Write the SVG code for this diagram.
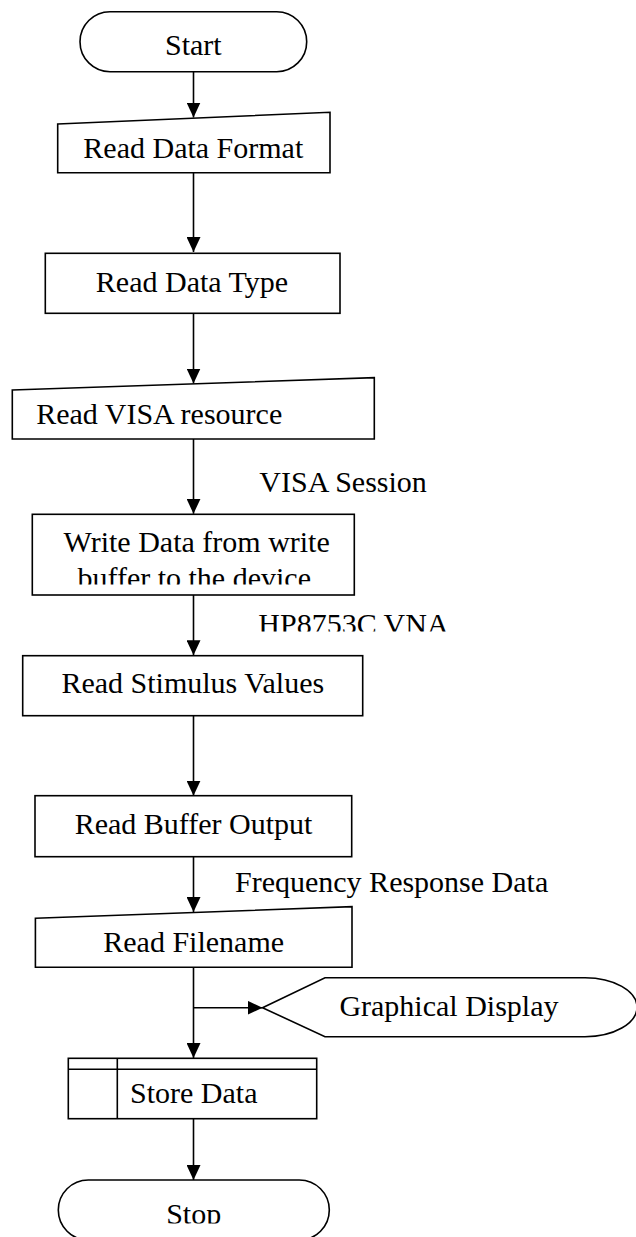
<svg xmlns="http://www.w3.org/2000/svg" width="636" height="1237" viewBox="0 0 636 1237">
  <style>
    .shape { fill: #ffffff; stroke: #000000; stroke-width: 1.6; }
    .edge { fill: none; stroke: #000000; stroke-width: 1.6; }
    .label { font-family: "Liberation Serif", "Times New Roman", serif; font-size: 30px; fill: #000000; }
    .mid { text-anchor: middle; }
  </style>
  <defs>
    <marker id="arrow" markerUnits="userSpaceOnUse" markerWidth="15" markerHeight="14" refX="15" refY="7" orient="auto">
      <path d="M0,0 L15,7 L0,14 Z" fill="#000000"/>
    </marker>
    <clipPath id="clip-write"><rect x="0" y="530" width="636" height="54.5"/></clipPath>
    <clipPath id="clip-vna"><rect x="0" y="600" width="636" height="31.5"/></clipPath>
    <clipPath id="clip-stop"><rect x="0" y="1180" width="636" height="43.5"/></clipPath>
  </defs>

  <rect width="636" height="1237" fill="#ffffff"/>

  <!-- connectors -->
  <g id="connectors">
    <line class="edge" x1="193.5" y1="71.7" x2="193.5" y2="117.5" marker-end="url(#arrow)"/>
    <line class="edge" x1="193.5" y1="172.7" x2="193.5" y2="252" marker-end="url(#arrow)"/>
    <line class="edge" x1="193.5" y1="313.3" x2="193.5" y2="383.5" marker-end="url(#arrow)"/>
    <line class="edge" x1="193.5" y1="439" x2="193.5" y2="513.8" marker-end="url(#arrow)"/>
    <line class="edge" x1="193.5" y1="595" x2="193.5" y2="655.2" marker-end="url(#arrow)"/>
    <line class="edge" x1="193.5" y1="715.7" x2="193.5" y2="795.7" marker-end="url(#arrow)"/>
    <line class="edge" x1="193.5" y1="856.7" x2="193.5" y2="912" marker-end="url(#arrow)"/>
    <line class="edge" x1="193.5" y1="967.3" x2="193.5" y2="1058" marker-end="url(#arrow)"/>
    <line class="edge" x1="193.5" y1="1007.7" x2="262.5" y2="1007.7" marker-end="url(#arrow)"/>
    <line class="edge" x1="193.5" y1="1118.7" x2="193.5" y2="1180" marker-end="url(#arrow)"/>
    <text class="label" x="259.3" y="492.3">VISA Session</text>
    <text class="label" x="258.3" y="634" clip-path="url(#clip-vna)">HP8753C VNA</text>
    <text class="label" x="235" y="892">Frequency Response Data</text>
  </g>

  <!-- terminal: start -->
  <g id="start">
    <rect class="shape" x="80" y="11.7" width="226.7" height="60" rx="30" ry="30"/>
    <text class="label mid" x="193.3" y="55">Start</text>
  </g>

  <!-- manual input: data format -->
  <g id="read-data-format">
    <path class="shape" d="M57.7,124 L330,112.3 L330,172.7 L57.7,172.7 Z"/>
    <text class="label mid" x="193.3" y="157.7">Read Data Format</text>
  </g>

  <!-- process: data type -->
  <g id="read-data-type">
    <rect class="shape" x="45.3" y="253.3" width="294.7" height="60"/>
    <text class="label mid" x="192" y="292.3">Read Data Type</text>
  </g>

  <!-- manual input: VISA resource -->
  <g id="read-visa-resource">
    <path class="shape" d="M12.3,390 L374.3,377.7 L374.3,439 L12.3,439 Z"/>
    <text class="label mid" x="159.2" y="424">Read VISA resource</text>
  </g>

  <!-- process: write to device -->
  <g id="write-data">
    <rect class="shape" x="32.3" y="514.3" width="322" height="80.7"/>
    <text class="label mid" x="196.7" y="551.7">Write Data from write</text>
    <text class="label mid" x="194.2" y="588" clip-path="url(#clip-write)">buffer to the device</text>
  </g>

  <!-- process: stimulus values -->
  <g id="read-stimulus-values">
    <rect class="shape" x="22.7" y="655.7" width="340" height="60"/>
    <text class="label mid" x="192.8" y="693.3">Read Stimulus Values</text>
  </g>

  <!-- process: buffer output -->
  <g id="read-buffer-output">
    <rect class="shape" x="35" y="795.7" width="316.7" height="61"/>
    <text class="label mid" x="193.5" y="834.3">Read Buffer Output</text>
  </g>

  <!-- manual input: filename -->
  <g id="read-filename">
    <path class="shape" d="M35.4,918.3 L352,906.7 L352,967.3 L35.4,967.3 Z"/>
    <text class="label mid" x="193.7" y="951.7">Read Filename</text>
  </g>

  <!-- display -->
  <g id="graphical-display">
    <path class="shape" d="M262.5,1007.7 L325,977.7 L585,977.7 A52,29.5 0 0 1 585,1036.7 L325,1036.7 Z"/>
    <text class="label" x="339.4" y="1016">Graphical Display</text>
  </g>

  <!-- internal storage -->
  <g id="store-data">
    <rect class="shape" x="68.3" y="1058.3" width="248.4" height="60.4"/>
    <line class="edge" x1="68.3" y1="1069.3" x2="316.7" y2="1069.3"/>
    <line class="edge" x1="117.3" y1="1058.3" x2="117.3" y2="1118.7"/>
    <text class="label" x="130" y="1103.3">Store Data</text>
  </g>

  <!-- terminal: stop -->
  <g id="stop">
    <rect class="shape" x="58.3" y="1180" width="271" height="60" rx="30" ry="30"/>
    <text class="label mid" x="193.7" y="1223.5" clip-path="url(#clip-stop)">Stop</text>
  </g>
</svg>
